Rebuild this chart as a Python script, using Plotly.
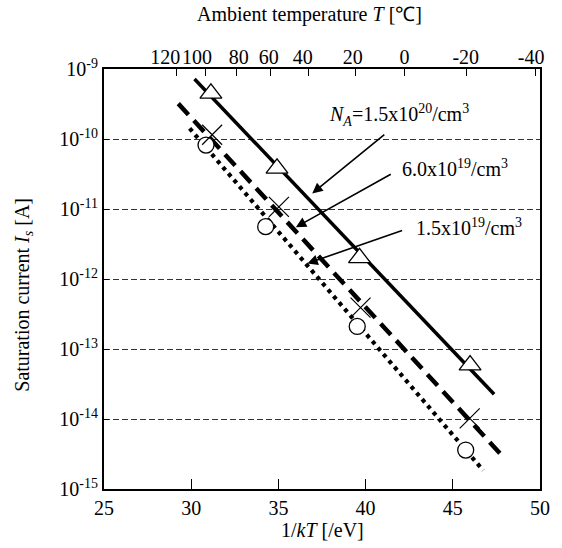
import numpy as np
import plotly.graph_objects as go

# ---- data ----
inv_kT_tri = [31.13, 34.92, 39.65, 45.99]          # N_A = 1.5e20
Is_tri = [4.5e-10, 3.8e-11, 2.0e-12, 5.9e-14]
inv_kT_x = [31.2, 35.03, 39.71, 45.97]             # N_A = 6.0e19
Is_x = [1.15e-10, 1.07e-11, 3.9e-13, 1.02e-14]
inv_kT_circ = [30.85, 34.27, 39.52, 45.74]         # N_A = 1.5e19
Is_circ = [8.2e-11, 5.6e-12, 2.1e-13, 3.6e-15]

fit_x_solid = [30.19, 47.37]
fit_y_solid = [7.2e-10, 2.26e-14]
fit_x_dash = [29.26, 47.77]
fit_y_dash = [3.2e-10, 3.1e-15]
fit_x_dot = [29.91, 46.74]
fit_y_dot = [1.42e-10, 1.85e-15]

bottom_ticks = [25, 30, 35, 40, 45, 50]
top_tick_pos = [29.15, 30.8, 32.62, 34.55, 36.72, 39.42, 42.25, 45.76, 49.74]
top_label_pos = [28.51, 30.33, 32.72, 34.44, 36.39, 39.26, 42.23, 45.74, 49.49]
top_tick_text = ["120", "100", "80", "60", "40", "20", "0", "-20", "-40"]
y_exps = [-15, -14, -13, -12, -11, -10, -9]

labels = ["<i>N<sub>A</sub></i>=1.5x10<sup>20</sup>/cm<sup>3</sup>",
          "6.0x10<sup>19</sup>/cm<sup>3</sup>",
          "1.5x10<sup>19</sup>/cm<sup>3</sup>"]
label_pos = [(0.676, 0.890), (0.804, 0.764), (0.838, 0.624)]
arrow_head = [(36.94, 1.67e-11), (36.0, 5.5e-12), (36.66, 1.67e-12)]
arrow_tail = [(41.16, 1.2e-10), (41.53, 3.23e-11), (42.18, 5.0e-12)]

FONT = "Liberation Serif"
FS = 20
tf = dict(family=FONT, size=FS, color="black")

fig = go.Figure()
fig.add_trace(go.Scatter(x=fit_x_solid, y=fit_y_solid, mode="lines",
                         line=dict(color="black", width=3.5), showlegend=False))
fig.add_trace(go.Scatter(x=fit_x_dash, y=fit_y_dash, mode="lines",
                         line=dict(color="black", width=4.5, dash="15px,8px"), showlegend=False))
fig.add_trace(go.Scatter(x=fit_x_dot, y=fit_y_dot, mode="lines",
                         line=dict(color="black", width=4.2, dash="4px,4.5px"), showlegend=False))
fig.add_trace(go.Scatter(x=inv_kT_tri, y=Is_tri, mode="markers",
                         marker=dict(symbol="triangle-up", size=19, color="white",
                                     line=dict(color="black", width=1.3)), showlegend=False))
fig.add_trace(go.Scatter(x=inv_kT_circ, y=Is_circ, mode="markers",
                         marker=dict(symbol="circle", size=16, color="white",
                                     line=dict(color="black", width=1.3)), showlegend=False))
fig.add_trace(go.Scatter(x=inv_kT_x, y=Is_x, mode="markers",
                         marker=dict(symbol="x-thin", size=20, color="black",
                                     line=dict(color="black", width=1.2)), showlegend=False))
# invisible traces for the top axes
fig.add_trace(go.Scatter(x=[25, 50], y=[1e-12, 1e-12], xaxis="x2", mode="markers",
                         marker=dict(opacity=0), showlegend=False, hoverinfo="skip"))
fig.add_trace(go.Scatter(x=[25, 50], y=[1e-12, 1e-12], xaxis="x3", mode="markers",
                         marker=dict(opacity=0), showlegend=False, hoverinfo="skip"))

annotations = []
for txt, (px, py) in zip(labels, label_pos):
    annotations.append(dict(text=txt, x=px, y=py, xref="paper", yref="paper",
                            xanchor="center", yanchor="middle",
                            showarrow=False, font=tf))
for (hx, hy), (tx, ty) in zip(arrow_head, arrow_tail):
    annotations.append(dict(text="", x=hx, y=np.log10(hy), ax=tx, ay=np.log10(ty),
                            xref="x", yref="y", axref="x", ayref="y",
                            showarrow=True, arrowhead=2, arrowsize=1.3, arrowwidth=1.6,
                            arrowcolor="black", standoff=0, startstandoff=0))
annotations.append(dict(text="Ambient temperature <i>T</i> [\u2103]", x=0.471, y=1.129,
                        xref="paper", yref="paper", xanchor="center", yanchor="middle",
                        showarrow=False, font=tf))
annotations.append(dict(text="1/<i>kT</i> [/eV]", x=0.5, y=-0.098,
                        xref="paper", yref="paper", xanchor="center", yanchor="middle",
                        showarrow=False, font=tf))
annotations.append(dict(text="Saturation current <i>I<sub>s</sub></i> [A]", x=-0.184, y=0.462,
                        xref="paper", yref="paper", xanchor="center", yanchor="middle",
                        showarrow=False, textangle=-90, font=tf))

fig.update_layout(
    width=562, height=548,
    margin=dict(l=104, r=13, t=69, b=59),
    paper_bgcolor="white", plot_bgcolor="white",
    font=tf,
    annotations=annotations,
    xaxis=dict(range=[25, 50], tickvals=bottom_ticks, ticktext=[str(v) for v in bottom_ticks],
               ticks="inside", ticklen=10, tickwidth=1, tickcolor="black", tickfont=tf,
               showline=True, linewidth=2, linecolor="black", showgrid=False,
               zeroline=False, tickangle=0),
    xaxis2=dict(range=[25, 50], overlaying="x", side="top", tickvals=top_tick_pos,
                showticklabels=False, ticks="inside", ticklen=7, tickwidth=1,
                tickcolor="black", showline=True, linewidth=2, linecolor="black",
                showgrid=False, zeroline=False),
    xaxis3=dict(range=[25, 50], overlaying="x", side="top", tickvals=top_label_pos,
                ticktext=top_tick_text, ticks="", tickfont=tf, showline=False,
                showgrid=False, zeroline=False, tickangle=0),
    yaxis=dict(type="log", range=[-15, -9], tickvals=[10.0 ** e for e in y_exps],
               ticktext=["10<sup>%d</sup>" % e for e in y_exps], tickfont=tf,
               ticks="inside", ticklen=5, tickwidth=1, tickcolor="black",
               showline=True, linewidth=2, linecolor="black", mirror=True,
               showgrid=True, gridcolor="#333333", gridwidth=1.2, griddash="6px,3px",
               zeroline=False),
)

fig.write_html("out.html")
